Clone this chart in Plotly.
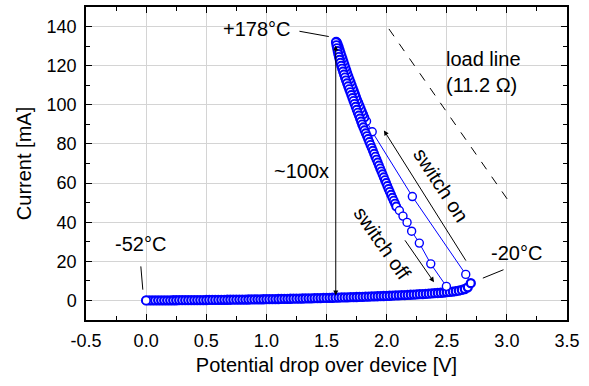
import plotly.graph_objects as go

# ---- data ----
# heating branch along the bottom (-52 C -> -20 C)
v_low = [0.000, 0.025, 0.050, 0.075, 0.100, 0.125, 0.150, 0.175, 0.200, 0.225,
         0.250, 0.275, 0.300, 0.325, 0.350, 0.375, 0.400, 0.425, 0.450, 0.475,
         0.500, 0.525, 0.550, 0.575, 0.600, 0.625, 0.650, 0.675, 0.700, 0.725,
         0.750, 0.775, 0.800, 0.825, 0.850, 0.875, 0.900, 0.925, 0.950, 0.975,
         1.000, 1.025, 1.050, 1.075, 1.100, 1.125, 1.150, 1.175, 1.200, 1.225,
         1.250, 1.275, 1.300, 1.325, 1.350, 1.375, 1.400, 1.425, 1.450, 1.475,
         1.500, 1.525, 1.550, 1.575, 1.600, 1.625, 1.650, 1.675, 1.700, 1.725,
         1.750, 1.775, 1.800, 1.825, 1.850, 1.875, 1.900, 1.925, 1.950, 1.975,
         2.000, 2.025, 2.050, 2.075, 2.100, 2.125, 2.150, 2.175, 2.200, 2.225,
         2.250, 2.275, 2.300, 2.325, 2.350, 2.375, 2.400, 2.425, 2.450, 2.475,
         2.500, 2.525, 2.550, 2.575, 2.600, 2.625, 2.650, 2.675, 2.700]
i_low = [0.00, 0.01, 0.02, 0.03, 0.04, 0.05, 0.06, 0.07, 0.08, 0.09,
         0.10, 0.11, 0.12, 0.13, 0.14, 0.15, 0.17, 0.18, 0.19, 0.21,
         0.22, 0.24, 0.25, 0.27, 0.28, 0.30, 0.32, 0.34, 0.36, 0.38,
         0.40, 0.42, 0.44, 0.46, 0.48, 0.50, 0.53, 0.55, 0.58, 0.60,
         0.63, 0.65, 0.68, 0.71, 0.74, 0.77, 0.80, 0.83, 0.86, 0.89,
         0.92, 0.96, 0.99, 1.03, 1.06, 1.10, 1.14, 1.18, 1.22, 1.26,
         1.30, 1.34, 1.38, 1.43, 1.47, 1.52, 1.56, 1.61, 1.66, 1.71,
         1.76, 1.81, 1.86, 1.92, 1.97, 2.03, 2.09, 2.15, 2.21, 2.27,
         2.33, 2.40, 2.47, 2.54, 2.61, 2.68, 2.76, 2.84, 2.92, 3.00,
         3.09, 3.18, 3.27, 3.37, 3.47, 3.58, 3.69, 3.81, 3.93, 4.06,
         4.20, 4.36, 4.54, 4.75, 5.00, 5.35, 5.85, 6.70, 8.80]

# switch-on jump
v_on = [2.658, 2.214, 1.880, 1.833]
i_on = [13.3, 53.1, 86.2, 91.6]

# rise to +178 C
v_up = [1.815, 1.805, 1.795, 1.785, 1.775, 1.765, 1.755, 1.746, 1.737, 1.728,
        1.719, 1.710, 1.701, 1.692, 1.683, 1.674, 1.666, 1.658, 1.650, 1.642,
        1.634, 1.626, 1.618, 1.610, 1.602, 1.594, 1.587, 1.581]
i_up = [93.5, 95.0, 96.5, 98.0, 99.5, 101.0, 102.5, 104.0, 105.5, 107.0,
        108.5, 110.0, 111.5, 113.0, 114.5, 116.0, 117.5, 119.0, 120.5, 122.0,
        123.5, 125.0, 126.5, 128.0, 129.5, 130.8, 131.8, 132.3]

# cooling back down the curve
v_down = [1.578, 1.582, 1.587, 1.592, 1.597, 1.603, 1.609, 1.615, 1.622, 1.629,
          1.637, 1.645, 1.653, 1.661, 1.670, 1.679, 1.688, 1.697, 1.706, 1.715,
          1.724, 1.733, 1.742, 1.751, 1.760, 1.769, 1.778, 1.787, 1.796, 1.806,
          1.816, 1.826, 1.836, 1.846, 1.856, 1.866, 1.876, 1.886, 1.896, 1.906,
          1.916, 1.926, 1.936, 1.946, 1.956, 1.966, 1.976, 1.986, 1.996, 2.006,
          2.016, 2.026, 2.037, 2.048, 2.059, 2.070, 2.080]
i_down = [132.0, 130.5, 129.0, 127.5, 126.0, 124.5, 123.0, 121.5, 120.0, 118.5,
          117.0, 115.5, 114.0, 112.5, 111.0, 109.5, 108.0, 106.5, 105.0, 103.5,
          102.0, 100.5, 99.0, 97.5, 96.0, 94.5, 93.0, 91.5, 90.0, 88.5,
          87.0, 85.5, 84.0, 82.5, 81.0, 79.5, 78.0, 76.5, 75.0, 73.5,
          72.0, 70.5, 69.0, 67.5, 66.0, 64.5, 63.0, 61.5, 60.0, 58.5,
          57.0, 55.5, 54.0, 52.5, 51.0, 49.5, 48.0]

# switch-off
v_off = [2.106, 2.136, 2.170, 2.208, 2.272, 2.367, 2.497]
i_off = [46.0, 43.1, 39.9, 35.4, 29.3, 18.7, 7.2]

x_ticks = [-0.5, 0.0, 0.5, 1.0, 1.5, 2.0, 2.5, 3.0, 3.5]
x_ticklabels = ["-0.5", "0.0", "0.5", "1.0", "1.5", "2.0", "2.5", "3.0", "3.5"]
y_ticks = [0, 20, 40, 60, 80, 100, 120, 140]
y_ticklabels = ["0", "20", "40", "60", "80", "100", "120", "140"]

# ---- figure ----
FONT = "Liberation Sans, Arial, Helvetica, sans-serif"
BLUE = "#0000ff"

v_all = v_low + v_on + v_up + v_down + v_off
i_all = i_low + i_on + i_up + i_down + i_off
# ring thickness per segment: dense runs look nearly solid
ring_w = ([2.3] * len(v_low) + [1.4] * len(v_on) + [1.9] * len(v_up)
          + [1.9] * len(v_down) + [1.4] * len(v_off))

fig = go.Figure()
fig.add_trace(go.Scatter(
    x=v_all, y=i_all, mode="lines+markers",
    line=dict(color=BLUE, width=1),
    marker=dict(symbol="circle", size=8, color="white",
                line=dict(color=BLUE, width=ring_w)),
    showlegend=False, hoverinfo="x+y"))
# start point (-52 C) drawn on top
fig.add_trace(go.Scatter(
    x=[v_low[0]], y=[i_low[0]], mode="markers",
    marker=dict(symbol="circle", size=8, color="white",
                line=dict(color=BLUE, width=1.6)),
    showlegend=False, hoverinfo="x+y"))

ann_font = dict(family=FONT, size=20, color="black")
annotations = [
    dict(x=0.92, y=138.8, text="+178°C", showarrow=False, font=ann_font),
    dict(x=2.475, y=117, text="load line<br>(11.2 Ω)", showarrow=False,
         font=ann_font, xanchor="left", align="left"),
    dict(x=1.29, y=66.4, text="~100x", showarrow=False, font=ann_font),
    dict(x=-0.05, y=28.6, text="-52°C", showarrow=False, font=ann_font),
    dict(x=3.083, y=24.5, text="-20°C", showarrow=False, font=ann_font),
    dict(x=2.45, y=58.8, text="switch on", showarrow=False, font=ann_font,
         textangle=57),
    dict(x=1.964, y=29.5, text="switch off", showarrow=False, font=ann_font,
         textangle=55),
    # arrows
    dict(x=1.577, y=130.3, ax=1.577, ay=1.7, axref="x", ayref="y", text="",
         showarrow=True, arrowhead=2, startarrowhead=2, arrowside="end+start",
         arrowsize=1, arrowwidth=1, arrowcolor="black", standoff=0, startstandoff=0),
    dict(x=1.9775, y=86.9, ax=2.667, ay=19.6, axref="x", ayref="y", text="",
         showarrow=True, arrowhead=2, arrowsize=1, arrowwidth=1,
         arrowcolor="black", standoff=0),
    dict(x=2.394, y=9.35, ax=2.144, ay=31.5, axref="x", ayref="y", text="",
         showarrow=True, arrowhead=2, arrowsize=1, arrowwidth=1,
         arrowcolor="black", standoff=0),
]
for a in annotations:
    a.setdefault("xref", "x")
    a.setdefault("yref", "y")

shapes = [
    dict(type="line", x0=2.019, y0=138.8, x1=3.011, y1=51.1,
         line=dict(color="black", width=1, dash="dash")),
    dict(type="line", x0=1.275, y0=137.6, x1=1.519, y1=134.9,
         line=dict(color="black", width=1)),
    dict(type="line", x0=2.80, y0=11.4, x1=2.972, y1=15.7,
         line=dict(color="black", width=1)),
    dict(type="line", x0=-0.044, y0=17.4, x1=-0.0275, y1=5.5,
         line=dict(color="black", width=1)),
]
for s in shapes:
    s["xref"] = "x"
    s["yref"] = "y"

axis_common = dict(
    ticks="inside", ticklen=6, tickwidth=1, tickcolor="black",
    showline=True, linecolor="black", linewidth=1.5, mirror="ticks",
    showgrid=True, gridcolor="#d4d4d4", gridwidth=1, zeroline=False,
    automargin=False,
    tickfont=dict(family=FONT, size=18, color="black"),
)

fig.update_layout(
    width=589, height=386,
    margin=dict(l=86, r=22, t=7, b=66),
    paper_bgcolor="white", plot_bgcolor="white",
    font=dict(family=FONT, color="black"),
    annotations=annotations, shapes=shapes,
    xaxis=dict(range=[-0.5, 3.5], tickmode="array", tickvals=x_ticks,
               ticktext=x_ticklabels, ticklabelstandoff=4,
               minor=dict(dtick=0.25, tick0=0, ticks="inside", ticklen=4,
                          tickcolor="black", showgrid=False),
               title=dict(text="Potential drop over device [V]",
                          font=dict(family=FONT, size=20), standoff=8),
               **axis_common),
    yaxis=dict(range=[-10, 150], tickmode="array", tickvals=y_ticks,
               ticktext=y_ticklabels, ticklabelstandoff=4,
               minor=dict(dtick=10, tick0=0, ticks="inside", ticklen=4,
                          tickcolor="black", showgrid=False),
               title=dict(text="Current [mA]",
                          font=dict(family=FONT, size=20), standoff=10),
               **axis_common),
)

fig.write_html("out.html",
               config={"displayModeBar": False},
               post_script="document.body.style.margin='0';"
                           "document.body.style.padding='0';")
